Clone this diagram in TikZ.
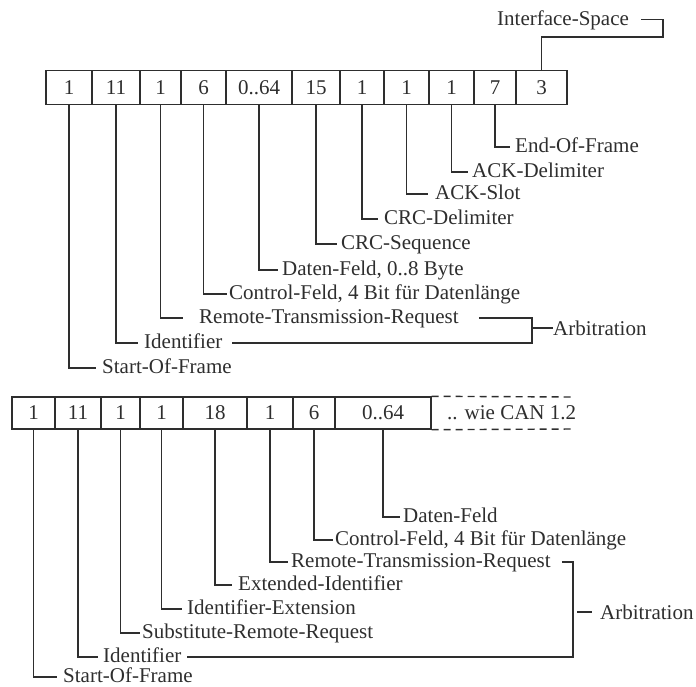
\documentclass[tikz,border=0pt]{standalone}
\usepackage{fontspec}
\setmainfont{Liberation Serif}
\definecolor{ink}{HTML}{2E2E2E}
\tikzset{
  ln/.style={draw=ink, line width=1.4pt},
  cell/.style={draw=ink, line width=1.4pt, inner sep=0pt, text=ink, font=\fontsize{21}{24}\selectfont},
  lab/.style={anchor=base west, inner sep=0pt, text=ink, font=\fontsize{21}{24}\selectfont},
  dsh/.style={draw=ink, line width=1.4pt, dash pattern=on 7pt off 5pt}
}
\newcommand\myleader[6]{%
  \node[lab] (#2) at (#3,{#4+5.5}) {#5};
  \draw[ln] (#1.south) |- ([xshift=-#6pt,yshift=5.5pt]#2.base west);}
\begin{document}
\begin{tikzpicture}[x=1pt,y=-1pt]
\useasboundingbox (0,0) rectangle (696,686);
% top frame
\foreach \l/\r/\t [count=\i] in {46/92/1, 92/140/11, 140/181/1, 181/226/6, 226/292/{0..64}, 292/340/15, 340/384/1, 384/429/1, 429/474/1, 474/516/7, 516/567/3}
  \node[cell, minimum width={(\r-\l)*1pt}, minimum height=34pt] (t\i) at ({(\l+\r)/2},87.5) {\t};
% bottom frame
\foreach \l/\r/\t [count=\i] in {12/55/1, 55/101/11, 101/140/1, 140/183/1, 183/247/18, 247/293/1, 293/335/6, 335/431/{0..64}}
  \node[cell, minimum width={(\r-\l)*1pt}, minimum height=32pt] (b\i) at ({(\l+\r)/2},413) {\t};
\coordinate (dt) at (573,397);
\coordinate (db) at (573,429);
\draw[dsh] (b8.north east) -- (dt);
\draw[dsh] (b8.south east) -- (db);
\node[lab] (wie) at (447,419) {.. wie CAN 1.2};
% interface space
\node[lab] (iface) at (497,25) {Interface-Space};
\coordinate (ic) at (663,37);
\draw[ln] (t11.north) |- (ic) |- ([xshift=12pt,yshift=5.5pt]iface.base east);
% top labels
\myleader{t10}{eof}{515}{147}{End-Of-Frame}{5}
\myleader{t9}{ackd}{472}{172}{ACK-Delimiter}{4}
\myleader{t8}{acks}{435}{194}{ACK-Slot}{7}
\myleader{t7}{crcd}{384}{219}{CRC-Delimiter}{6}
\myleader{t6}{crcs}{341}{244}{CRC-Sequence}{4}
\myleader{t5}{datU}{282}{270}{Daten-Feld, 0..8 Byte}{4}
\myleader{t4}{ctlU}{229}{294}{Control-Feld, 4 Bit für Datenlänge}{2}
\myleader{t3}{remU}{199}{318}{Remote-Transmission-Request}{16}
\myleader{t2}{idU}{144}{343}{Identifier}{6}
\myleader{t1}{sofU}{102}{368}{Start-Of-Frame}{6}
\coordinate (bu) at (532,328);
\node[lab, anchor=west] (arbU) at (553,328) {Arbitration};
\draw[ln] ([xshift=20pt,yshift=5.5pt]remU.base east) -| (bu) |- ([xshift=9pt,yshift=5.5pt]idU.base east);
\draw[ln] (bu) -- (arbU.west);
% bottom labels
\myleader{b8}{datL}{403}{517}{Daten-Feld}{3}
\myleader{b7}{ctlL}{335}{540}{Control-Feld, 4 Bit für Datenlänge}{2}
\myleader{b6}{remL}{291}{562}{Remote-Transmission-Request}{3}
\myleader{b5}{extL}{238}{585}{Extended-Identifier}{6}
\myleader{b4}{ideL}{187}{609}{Identifier-Extension}{5}
\myleader{b3}{srrL}{142}{633}{Substitute-Remote-Request}{2}
\myleader{b2}{idL}{103}{657}{Identifier}{5}
\myleader{b1}{sofL}{63}{677}{Start-Of-Frame}{6}
\coordinate (bl) at (573,612);
\node[lab, anchor=west] (arbL) at (600,612) {Arbitration};
\draw[ln] ([xshift=11pt,yshift=5.5pt]remL.base east) -| (bl) |- ([xshift=5pt,yshift=5.5pt]idL.base east);
\draw[ln] ([xshift=4pt]bl) -- ([xshift=-8pt]arbL.west);
\end{tikzpicture}
\end{document}
